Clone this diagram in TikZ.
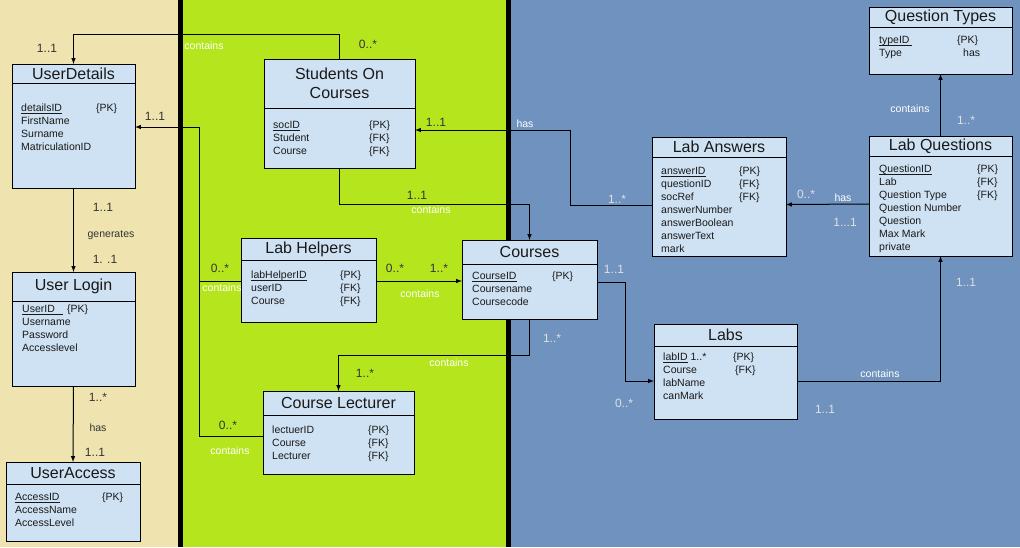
\documentclass[tikz,border=0pt]{standalone}
\usepackage{fontspec}
\setmainfont{Liberation Sans}
\usepackage{xcolor}
\usetikzlibrary{shapes,arrows,positioning}
\definecolor{bandTan}{RGB}{239,228,176}
\definecolor{bandGreen}{RGB}{181,230,29}
\definecolor{bandBlue}{RGB}{112,146,190}
\definecolor{tableBlue}{RGB}{207,226,243}
\newcommand{\keyname}[1]{\underline{\smash{#1}}}

\begin{document}
\begin{tikzpicture}[
        x=1pt, y=-1pt,
        title/.style={rectangle, draw=black, line width=1pt, fill=tableBlue, anchor=north west, inner sep=0pt, outer sep=0pt, align=center, text=black!90, font=\fontsize{16}{19}\selectfont},
        body/.style={rectangle, draw=black, line width=1pt, fill=tableBlue, inner sep=0pt, outer sep=0pt},
        attr/.style={inner sep=0pt, align=left, text=black!90, font=\fontsize{10.5}{12.9}\selectfont},
        mult/.style={inner sep=1pt, text=black!80, font=\fontsize{12}{14}\selectfont},
        multlight/.style={mult, text=black!12},
        rel/.style={inner sep=1pt, text=white, font=\fontsize{10.5}{12}\selectfont},
        reldark/.style={rel, text=black!80},
        arrow/.style={->, >=latex, line width=1pt}
    ]
    \useasboundingbox (0,0) rectangle (1020,547);

    % Bandes de fond
    \fill[bandTan] (0,0) rectangle (178,547);
    \fill[bandGreen] (183,0) rectangle (506,547);
    \fill[bandBlue] (511,0) rectangle (1020,547);
    \fill[black] (178,0) rectangle (183,547);
    \fill[black] (506,0) rectangle (511,547);

    % Utilisateurs
    \node[title, minimum width=123pt, minimum height=19pt] (details) at (12,64) {UserDetails};
    \node[body, below=0pt of details, minimum width=123pt, minimum height=105pt] (detailsbody) {};
    \node[attr, below right=21pt and 9pt of detailsbody.north west] (detailsattr) {\makebox[75pt][l]{\keyname{detailsID}}\{PK\}\\FirstName\\Surname\\MatriculationID};

    \node[title, minimum width=123pt, minimum height=29pt] (login) at (12,272) {User Login};
    \node[body, below=0pt of login, minimum width=123pt, minimum height=85pt] (loginbody) {};
    \node[attr, below right=4pt and 10pt of loginbody.north west] (loginattr) {\makebox[45pt][l]{\keyname{UserID\hspace{8pt}}}\{PK\}\\Username\\Password\\Accesslevel};

    \node[title, minimum width=134pt, minimum height=22pt] (access) at (6,462) {UserAccess};
    \node[body, below=0pt of access, minimum width=134pt, minimum height=57pt] (accessbody) {};
    \node[attr, below right=9pt and 9pt of accessbody.north west] (accessattr) {\makebox[87pt][l]{\keyname{AccessID}}\{PK\}\\AccessName\\AccessLevel};

    % Cours
    \node[title, minimum width=151pt, minimum height=49pt] (soc) at (264,59) {Students On\\Courses};
    \node[body, below=0pt of soc, minimum width=151pt, minimum height=60pt] (socbody) {};
    \node[attr, below right=13pt and 9pt of socbody.north west] (socattr) {\makebox[96pt][l]{\keyname{socID}}\{PK\}\\\makebox[96pt][l]{Student}\{FK\}\\\makebox[96pt][l]{Course}\{FK\}};

    \node[title, minimum width=135pt, minimum height=22pt] (helpers) at (241,238) {Lab Helpers};
    \node[body, below=0pt of helpers, minimum width=135pt, minimum height=62pt] (helpersbody) {};
    \node[attr, below right=11pt and 10pt of helpersbody.north west] (helpersattr) {\makebox[89pt][l]{\keyname{labHelperID}}\{PK\}\\\makebox[89pt][l]{userID}\{FK\}\\\makebox[89pt][l]{Course}\{FK\}};

    \node[title, minimum width=135pt, minimum height=24pt] (courses) at (462,240) {Courses};
    \node[body, below=0pt of courses, minimum width=135pt, minimum height=55pt] (coursesbody) {};
    \node[attr, below right=8pt and 10pt of coursesbody.north west] (coursesattr) {\makebox[80pt][l]{\keyname{CourseID}}\{PK\}\\Coursename\\Coursecode};

    \node[title, minimum width=151pt, minimum height=24pt] (lecturer) at (263,391) {Course Lecturer};
    \node[body, below=0pt of lecturer, minimum width=151pt, minimum height=59pt] (lecturerbody) {};
    \node[attr, below right=11pt and 9pt of lecturerbody.north west] (lecturerattr) {\makebox[96pt][l]{lectuerID}\{PK\}\\\makebox[96pt][l]{Course}\{FK\}\\\makebox[96pt][l]{Lecturer}\{FK\}};

    % Labos
    \node[title, minimum width=143pt, minimum height=20pt] (qtypes) at (869,7) {Question Types};
    \node[body, below=0pt of qtypes, minimum width=143pt, minimum height=47pt] (qtypesbody) {};
    \node[attr, below right=9pt and 10pt of qtypesbody.north west] (qtypesattr) {\makebox[78pt][l]{\keyname{typeID\ }}\{PK\}\\\makebox[84pt][l]{Type}has};

    \node[title, minimum width=134pt, minimum height=20pt] (answers) at (652,137) {Lab Answers};
    \node[body, below=0pt of answers, minimum width=134pt, minimum height=99pt] (answersbody) {};
    \node[attr, below right=10pt and 9pt of answersbody.north west] (answersattr) {\makebox[78pt][l]{\keyname{answerID}}\{PK\}\\\makebox[78pt][l]{questionID}\{FK\}\\\makebox[78pt][l]{socRef}\{FK\}\\answerNumber\\answerBoolean\\answerText\\mark};

    \node[title, minimum width=143pt, minimum height=20pt] (questions) at (869,136) {Lab Questions};
    \node[body, below=0pt of questions, minimum width=143pt, minimum height=100pt] (questionsbody) {};
    \node[attr, below right=9pt and 10pt of questionsbody.north west] (questionsattr) {\makebox[98pt][l]{\keyname{QuestionID}}\{PK\}\\\makebox[98pt][l]{Lab}\{FK\}\\\makebox[98pt][l]{Question Type}\{FK\}\\Question Number\\Question\\Max Mark\\private};

    \node[title, minimum width=143pt, minimum height=22pt] (labs) at (654,324) {Labs};
    \node[body, below=0pt of labs, minimum width=143pt, minimum height=73pt] (labsbody) {};
    \node[attr, below right=7pt and 9pt of labsbody.north west] (labsattr) {\makebox[70pt][l]{\keyname{labID} 1..*}\{PK\}\\\makebox[72pt][l]{Course}\{FK\}\\labName\\canMark};

    % Liens
    \coordinate (busjoin) at (199,281);
    \draw[arrow] (soc.north) -- ++(0,-25) -| (details.north);
    \draw[arrow] ([yshift=8.5]lecturerbody.west) -- ++(-64,0) |- ([yshift=8.5]detailsbody.east);
    \draw[line width=1pt] ([yshift=10]helpersbody.west) -- (busjoin);
    \draw[arrow] (detailsbody.south) -- (login.north);
    \draw[arrow] (loginbody.south) -- (access.north);
    \draw[arrow] (socbody.south) -- ++(0,36) -| (courses.north);
    \draw[arrow] ([yshift=1.5]answersbody.west) -- ++(-82,0) |- ([yshift=8]socbody.east);
    \draw[arrow] ([yshift=10]helpersbody.east) -- ([yshift=10.5]coursesbody.west);
    \draw[arrow] (coursesbody.south) -- ++(0,36) -| (lecturer.north);
    \draw[arrow] ([yshift=9.5]coursesbody.east) -- ++(28,0) |- ([yshift=1.5]labsbody.west);
    \draw[arrow] ([yshift=1.5]labsbody.east) -| (questionsbody.south);
    \draw[arrow] ([yshift=2]questionsbody.west) -- ([yshift=2]answersbody.east);
    \draw[arrow] (questions.north) -- (qtypesbody.south);

    % Cardinalites
    \node[mult] (m1) at (47,48) {1..1};
    \node[mult] (m2) at (368,44) {0..*};
    \node[mult] (m3) at (155,116) {1..1};
    \node[mult] (m4) at (103,207) {1..1};
    \node[mult] (m5) at (105,259) {1. .1};
    \node[mult] (m6) at (98,397) {1..*};
    \node[mult] (m7) at (95,452) {1..1};
    \node[mult] (m8) at (436,122) {1..1};
    \node[multlight] (m9) at (617,199) {1..*};
    \node[mult] (m10) at (417,195) {1..1};
    \node[mult] (m11) at (220,268) {0..*};
    \node[mult] (m12) at (395,268) {0..*};
    \node[mult] (m13) at (439,268) {1..*};
    \node[multlight] (m14) at (614,269) {1..1};
    \node[multlight] (m15) at (552,338) {1..*};
    \node[mult] (m16) at (365,373) {1..*};
    \node[mult] (m17) at (228,425) {0..*};
    \node[multlight] (m18) at (624,403) {0..*};
    \node[multlight] (m19) at (825,409) {1..1};
    \node[multlight] (m20) at (966,282) {1..1};
    \node[multlight] (m21) at (806,194) {0..*};
    \node[multlight] (m22) at (845,222) {1...1};
    \node[multlight] (m23) at (966,120) {1..*};

    % Relations
    \node[rel] (r1) at (204,46) {contains};
    \node[reldark] (r2) at (111,235) {generates};
    \node[reldark] (r3) at (98,428) {has};
    \node[rel] (r4) at (525,124) {has};
    \node[rel] (r5) at (431,210) {contains};
    \node[rel] (r6) at (222,288) {contains};
    \node[rel] (r7) at (420,294) {contains};
    \node[rel] (r8) at (449,363) {contains};
    \node[rel] (r9) at (230,451) {contains};
    \node[rel] (r10) at (880,374) {contains};
    \node[rel] (r11) at (843,198) {has};
    \node[rel] (r12) at (910,109) {contains};

\end{tikzpicture}
\end{document}
